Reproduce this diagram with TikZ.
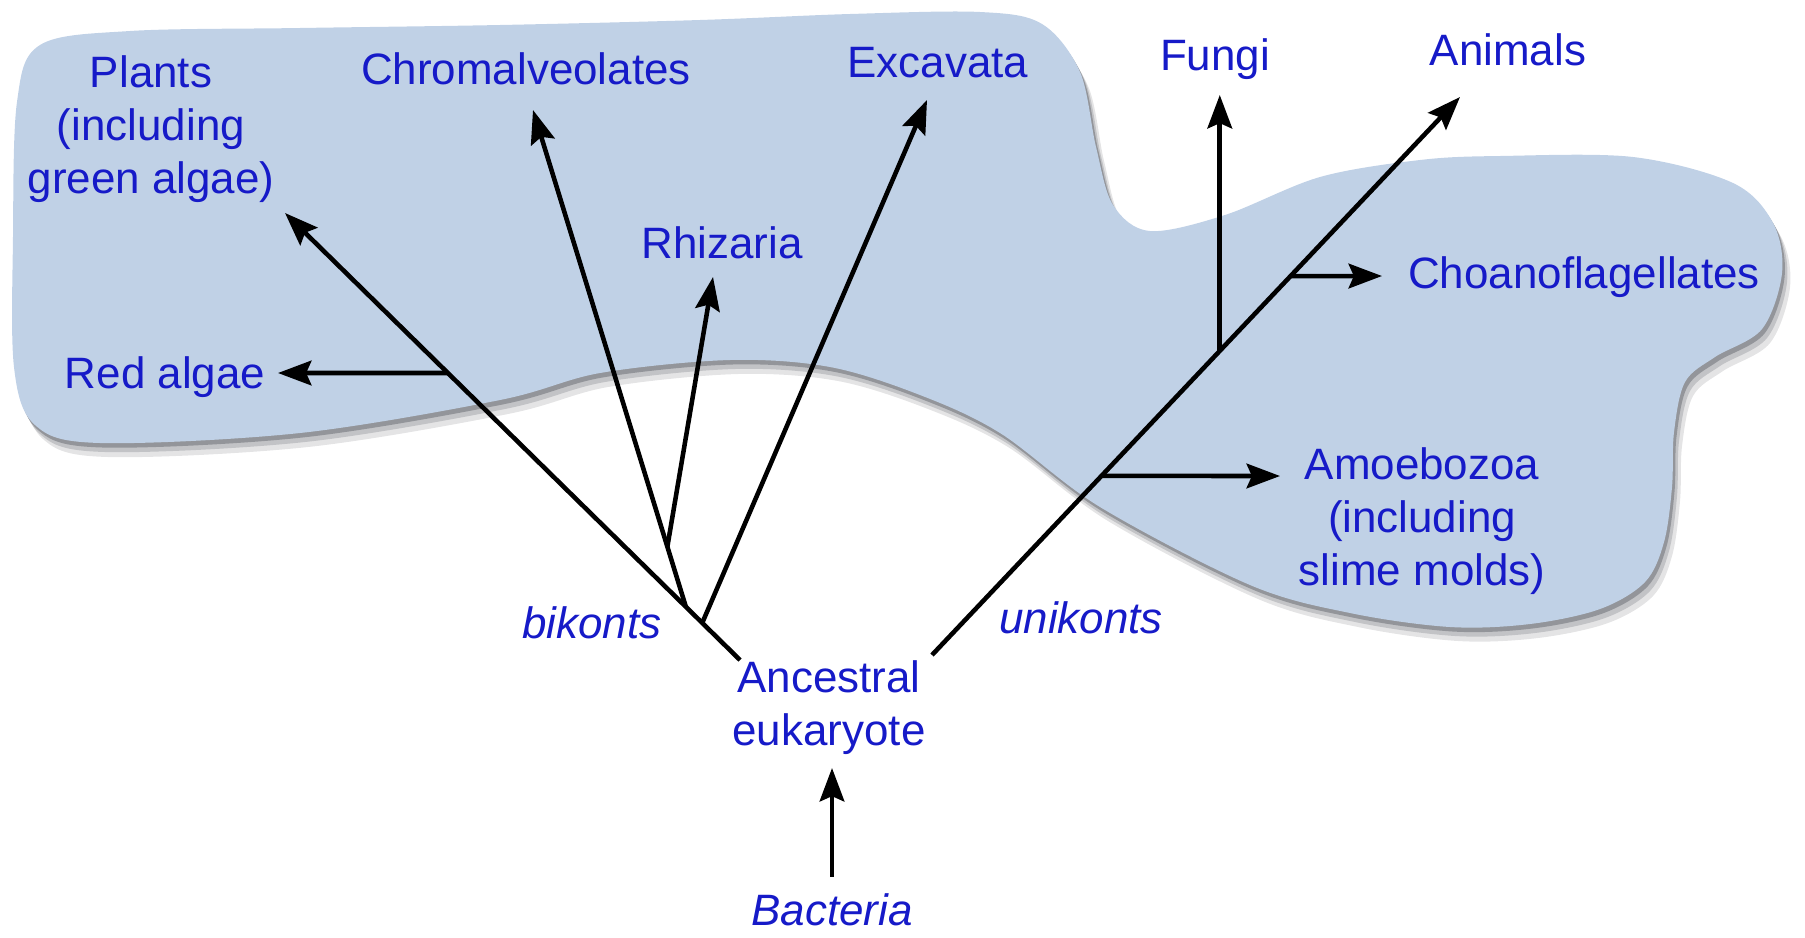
\documentclass[tikz,border=0pt]{standalone}
\usepackage{fontspec}
\setmainfont{Liberation Sans}
\usepackage{tikz}
\usetikzlibrary{
  arrows.meta,
  calc
}
\definecolor{txtblue}{RGB}{22,26,200}
\definecolor{blobblue}{RGB}{192,209,230}
\definecolor{shadowgray}{RGB}{120,122,128}

\tikzset{
  lbl/.style={text=txtblue, inner sep=0pt, font=\fontsize{12.5}{15.1}\selectfont},
  grp/.style={lbl, font=\fontsize{12.5}{15.1}\selectfont\itshape},
  branch/.style={line width=1.3pt, black},
  arr/.style={branch, -{Stealth[length=9.5pt,width=7pt,inset=1.5pt]}}
}

\newcommand{\blob}{plot[smooth cycle, tension=0.55] coordinates {
  (0.40,8.92) (1.3,9.06) (3.0,9.09) (5.0,9.12) (7.0,9.17) (8.5,9.23)
  (9.8,9.25) (10.42,9.13) (10.80,8.65) (10.96,7.90) (11.13,7.32) (11.50,7.06)
  (12.25,7.22) (13.2,7.60) (14.2,7.77) (15.0,7.81) (16.33,7.80) (17.33,7.54)
  (17.73,7.14) (17.82,6.64) (17.62,6.08) (17.15,5.80) (16.85,5.55) (16.74,5.05)
  (16.72,4.50) (16.64,3.95) (16.45,3.55) (16.00,3.28) (15.3,3.13) (14.5,3.10)
  (13.5,3.24) (12.5,3.52) (11.0,4.30) (10.0,5.04) (9.2,5.42) (8.3,5.70)
  (7.3,5.77) (6.0,5.64) (5.0,5.37) (3.0,5.04) (1.0,4.94) (0.35,5.12)
  (0.14,5.7) (0.13,7.0) (0.17,8.35)}}

\begin{document}
\begin{tikzpicture}
  \useasboundingbox (0,0) rectangle (18.05,9.37);

  \fill[shadowgray!20, shift={(0.08,-0.14)}] \blob;
  \fill[shadowgray!45, shift={(0.05,-0.09)}] \blob;
  \fill[shadowgray!80, shift={(0.025,-0.045)}] \blob;
  \fill[blobblue] \blob;

  \node[lbl, align=center] (plants) at (1.51, 8.075) {Plants\\(including\\green algae)};
  \node[lbl, anchor=base] (chromal) at (5.26, 8.53) {Chromalveolates};
  \node[lbl, anchor=base] (excav) at (9.38, 8.60) {Excavata};
  \node[lbl, anchor=base] (fungi) at (12.15, 8.67) {Fungi};
  \node[lbl, anchor=base] (animals) at (15.08, 8.72) {Animals};
  \node[lbl, anchor=base] (rhiz) at (7.22, 6.79) {Rhizaria};
  \node[lbl, anchor=base] (choano) at (15.84, 6.49) {Choanoflagellates};
  \node[lbl, anchor=base] (redalg) at (1.65, 5.49) {Red algae};
  \node[lbl, align=center] (amoeb) at (14.22, 4.155) {Amoebozoa\\(including\\slime molds)};
  \node[grp, anchor=base] (bik) at (5.92, 2.99) {bikonts};
  \node[grp, anchor=base] (unik) at (10.81, 3.04) {unikonts};
  \node[lbl, align=center] (anc) at (8.29, 2.295) {Ancestral\\eukaryote};
  \node[grp, anchor=base] (bact) at (8.32, 0.12) {Bacteria};

  \coordinate (bRoot) at (7.40, 2.77);
  \coordinate (uRoot) at (9.32, 2.82);
  \coordinate (tPlants) at (2.85, 7.24);
  \coordinate (tChrom) at (5.33, 8.27);
  \coordinate (tRhiz) at (7.13, 6.60);
  \coordinate (tExc) at (9.27, 8.37);
  \coordinate (tRed) at (2.78, 5.64);
  \coordinate (tAnim) at (14.60, 8.40);
  \coordinate (tAmoe) at (12.80, 4.61);
  \coordinate (tChoano) at (13.82, 6.61);
  \coordinate (tBact) at (8.32, 1.69);

  \coordinate (jExc) at ($(bRoot)!0.083!(tPlants)$);
  \coordinate (jChrom) at ($(bRoot)!0.119!(tPlants)$);
  \coordinate (jRhiz) at ($(jChrom)!0.121!(tChrom)$);
  \coordinate (jRed) at ($(bRoot)!0.642!(tPlants)$);
  \coordinate (jAmoe) at ($(uRoot)!0.321!(tAnim)$);
  \coordinate (jFungi) at ($(uRoot)!0.545!(tAnim)$);
  \coordinate (jChoano) at ($(uRoot)!0.679!(tAnim)$);
  \coordinate (tFungi) at (jFungi |- 0,8.42);

  \draw[arr] (bRoot) -- (tPlants);
  \draw[arr] (jRed) -- (tRed);
  \draw[arr] (jChrom) -- (tChrom);
  \draw[arr] (jRhiz) -- (tRhiz);
  \draw[arr] (jExc) -- (tExc);

  \draw[arr] (uRoot) -- (tAnim);
  \draw[arr] (jAmoe) -- (tAmoe);
  \draw[arr] (jFungi) -- (tFungi);
  \draw[arr] (jChoano) -- (tChoano);

  \draw[arr, shorten <=4.5pt] (bact) -- (tBact);
\end{tikzpicture}
\end{document}
